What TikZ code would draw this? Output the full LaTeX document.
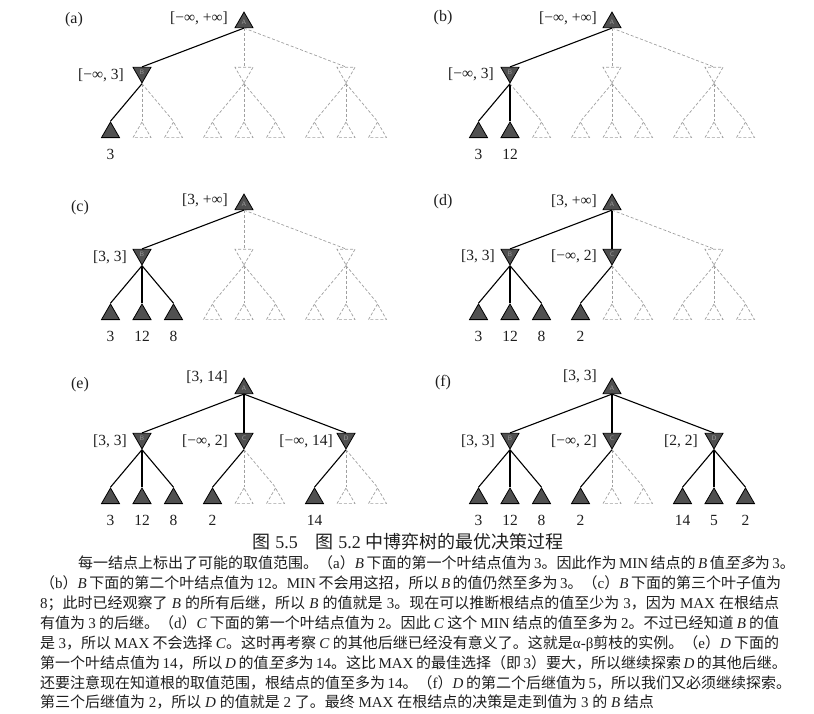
\documentclass[tikz,border=0pt]{standalone}
\usepackage{fontspec}
\setmainfont{Liberation Serif}
\newfontfamily\cjkfnt{Noto Sans CJK SC}
\newfontfamily\cjkslfnt[FakeSlant=0.2]{Noto Sans CJK SC}
\usetikzlibrary{shapes.geometric}
\XeTeXlinebreaklocale "zh"
\XeTeXlinebreakskip=0pt plus 1pt
\newcommand\zhx[1]{{\cjkfnt#1}}
\newcommand\zhs[1]{{\cjkslfnt#1}}
\definecolor{nodefill}{HTML}{505050}
\definecolor{dashgray}{HTML}{A0A0A0}
\definecolor{ink}{HTML}{1E1E1E}
\tikzset{
  tri/.style={regular polygon, regular polygon sides=3, minimum size=20.8pt, inner sep=0pt,
    font=\sffamily\fontsize{6.5}{6.5}\selectfont, text=gray!80},
  maxf/.style={tri, fill=nodefill, draw=black, line width=0.8pt},
  maxd/.style={tri, draw=dashgray, dash pattern=on 3pt off 2pt, line width=0.7pt},
  minf/.style={maxf, regular polygon rotate=180},
  mind/.style={maxd, regular polygon rotate=180},
  edgef/.style={draw=black, line width=1.1pt},
  edged/.style={draw=dashgray, dash pattern=on 3pt off 2pt, line width=0.7pt},
  val/.style={font=\fontsize{15.5}{16}\selectfont, text=ink, inner sep=0pt},
  rng/.style={val, anchor=east},
  tag/.style={font=\fontsize{16}{17}\selectfont, text=ink, inner sep=0pt},
  body/.style={font=\fontsize{15}{18}\selectfont, text=ink, inner sep=0pt, anchor=base west},
}
\newcommand\gametree[5]{%
  \node[maxf] (#1A) at (#2,#3+22.5) {A};
  \foreach \s/\l [count=\i] in {#4}{%
    \pgfmathsetmacro\mx{#2+(\i-2)*102}
    \node[min\s] (#1m\i) at (\mx,#3+72.5) {\l};
    \draw[edge\s] (#1A.side 2) -- (#1m\i.side 2);
  }
  \foreach \s/\v [count=\i] in {#5}{%
    \pgfmathtruncatemacro\j{int((\i-1)/3)+1}
    \pgfmathsetmacro\lx{#2+(\j-2)*102+(mod(\i-1,3)-1)*31.5}
    \node[max\s] (#1l\i) at (\lx,#3+132.4) {};
    \draw[edge\s] (#1m\j.corner 1) -- (#1l\i.corner 1);
    \node[val] (#1v\i) at (\lx,#3+154) {\v};
  }
}
\begin{document}
\begin{tikzpicture}[x=1pt,y=-1pt]
\useasboundingbox[fill=white] (0,0) rectangle (814,713);
% (a)
\gametree{a}{244}{0}{f/B,d/{},d/{}}{f/3,d/{},d/{},d/{},d/{},d/{},d/{},d/{},d/{}}
\node[tag] (ta) at (74,20) {(a)};
\node[rng] (aRA) at (228,18) {[−∞, +∞]};
\node[rng] (aRB) at (124,75) {[−∞, 3]};
% (b)
\gametree{b}{612}{0}{f/B,d/{},d/{}}{f/3,f/12,d/{},d/{},d/{},d/{},d/{},d/{},d/{}}
\node[tag] (tb) at (443,18) {(b)};
\node[rng] (bRA) at (597,18) {[−∞, +∞]};
\node[rng] (bRB) at (494,74) {[−∞, 3]};
% (c)
\gametree{c}{244}{182}{f/B,d/{},d/{}}{f/3,f/12,f/8,d/{},d/{},d/{},d/{},d/{},d/{}}
\node[tag] (tc) at (80,208) {(c)};
\node[rng] (cRA) at (228,200) {[3, +∞]};
\node[rng] (cRB) at (127,257) {[3, 3]};
% (d)
\gametree{d}{612}{182}{f/B,f/C,d/{}}{f/3,f/12,f/8,f/2,d/{},d/{},d/{},d/{},d/{}}
\node[tag] (td) at (443,202) {(d)};
\node[rng] (dRA) at (597,201) {[3, +∞]};
\node[rng] (dRB) at (495,256) {[3, 3]};
\node[rng] (dRC) at (597,256) {[−∞, 2]};
% (e)
\gametree{e}{244}{366}{f/B,f/C,f/D}{f/3,f/12,f/8,f/2,d/{},d/{},f/14,d/{},d/{}}
\node[tag] (te) at (80,385) {(e)};
\node[rng] (eRA) at (228,377) {[3, 14]};
\node[rng] (eRB) at (127,441) {[3, 3]};
\node[rng] (eRC) at (228,441) {[−∞, 2]};
\node[rng] (eRD) at (333,441) {[−∞, 14]};
% (f)
\gametree{f}{612}{366}{f/B,f/C,f/D}{f/3,f/12,f/8,f/2,d/{},d/{},f/14,f/5,f/2}
\node[tag] (tf) at (443,383) {(f)};
\node[rng] (fRA) at (597,376) {[3, 3]};
\node[rng] (fRB) at (495,441) {[3, 3]};
\node[rng] (fRC) at (597,441) {[−∞, 2]};
\node[rng] (fRD) at (698,441) {[2, 2]};
% caption
\node[font=\fontsize{18}{20}\selectfont, text=ink, inner sep=0pt] (cap) at (408,542)
  {\zhx{图} 5.5\zhx{　图} 5.2 \zhx{中博弈树的最优决策过程}};
% body text
\node[body] (t1) at (78,568.5) {\makebox[701pt][s]{\zhx{每一结点上标出了可能的取值范围。（}a\zhx{）}\textit{B} \zhx{下面的第一个叶结点值为} 3\zhx{。因此作为} MIN \zhx{结点的} \textit{B} \zhx{值}\zhs{至多}\zhx{为} 3\zhx{。}}};
\node[body] (t2) at (40,588.5) {\makebox[739pt][s]{\zhx{（}b\zhx{）}\textit{B} \zhx{下面的第二个叶结点值为} 12\zhx{。}MIN \zhx{不会用这招，所以} \textit{B} \zhx{的值仍然至多为} 3\zhx{。（}c\zhx{）}\textit{B} \zhx{下面的第三个叶子值为}}};
\node[body] (t3) at (40,608.5) {\makebox[739pt][s]{8\zhx{；此时已经观察了} \textit{B} \zhx{的所有后继，所以} \textit{B} \zhx{的值就是} 3\zhx{。现在可以推断根结点的值至少为} 3\zhx{，因为} MAX \zhx{在根结点}}};
\node[body] (t4) at (40,628.5) {\makebox[739pt][s]{\zhx{有值为} 3 \zhx{的后继。（}d\zhx{）}\textit{C} \zhx{下面的第一个叶结点值为} 2\zhx{。因此} \textit{C} \zhx{这个} MIN \zhx{结点的值至多为} 2\zhx{。不过已经知道} \textit{B} \zhx{的值}}};
\node[body] (t5) at (40,648.5) {\makebox[739pt][s]{\zhx{是} 3\zhx{，所以} MAX \zhx{不会选择} \textit{C}\zhx{。这时再考察} \textit{C} \zhx{的其他后继已经没有意义了。这就是}α-β\zhx{剪枝的实例。（}e\zhx{）}\textit{D} \zhx{下面的}}};
\node[body] (t6) at (40,668.5) {\makebox[739pt][s]{\zhx{第一个叶结点值为} 14\zhx{，所以} \textit{D} \zhx{的值}\zhs{至多}\zhx{为} 14\zhx{。这比} MAX \zhx{的最佳选择（即} 3\zhx{）要大，所以继续探索} \textit{D} \zhx{的其他后继。}}};
\node[body] (t7) at (40,688) {\makebox[739pt][s]{\zhx{还要注意现在知道根的取值范围，根结点的值至多为} 14\zhx{。（}f\zhx{）}\textit{D} \zhx{的第二个后继值为} 5\zhx{，所以我们又必须继续探索。}}};
\node[body] (t8) at (40,707.5) {\zhx{第三个后继值为} 2\zhx{，所以} \textit{D} \zhx{的值就是} 2 \zhx{了。最终} MAX \zhx{在根结点的决策是走到值为} 3 \zhx{的} \textit{B} \zhx{结点}};
\end{tikzpicture}
\end{document}
